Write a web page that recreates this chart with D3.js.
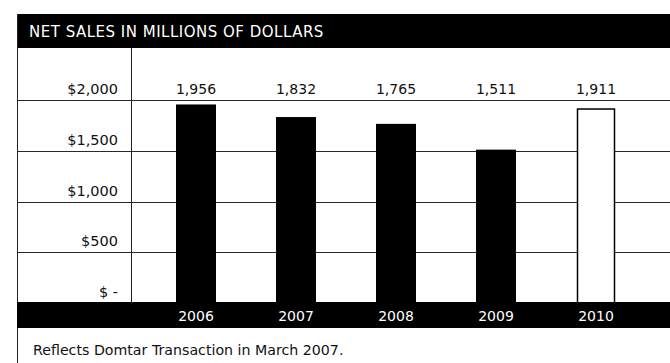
<!DOCTYPE html>
<html>
<head>
<meta charset="utf-8">
<script src="https://cdn.jsdelivr.net/npm/d3@7"></script>
<style>
  html, body { margin: 0; padding: 0; background: #fff; }
  svg { display: block; }
  text { font-family: "DejaVu Sans", sans-serif; }
</style>
</head>
<body>
<svg id="chart" width="670" height="363"></svg>
<script>
// Net sales by year, millions of dollars
const categories = ["2006", "2007", "2008", "2009", "2010"];
const netSales = [1956, 1832, 1765, 1511, 1911];
const yTicks = [0, 500, 1000, 1500, 2000];
const yTickLabels = ["$ -", "$500", "$1,000", "$1,500", "$2,000"];
const titleText = "NET SALES IN MILLIONS OF DOLLARS";
const footnote = "Reflects Domtar Transaction in March 2007.";

const W = 670, H = 363;
const frameLeft = 17, labelColRight = 131;
const plotTop = 100, plotBottom = 303;

const svg = d3.select("#chart");
const ink = "#111";

const x = d3.scaleBand()
  .domain(categories)
  .range([146, 646])
  .paddingInner(0.6)
  .paddingOuter(0.3);

const y = d3.scaleLinear()
  .domain([0, 2000])
  .range([plotBottom, plotTop]);

// background
svg.append("rect").attr("width", W).attr("height", H).attr("fill", "#fff");

// title band
svg.append("rect")
  .attr("x", frameLeft).attr("y", 14)
  .attr("width", W - frameLeft).attr("height", 34)
  .attr("fill", "#000");
svg.append("text")
  .attr("x", 29).attr("y", 37)
  .attr("fill", "#fff")
  .attr("font-size", 15)
  .attr("letter-spacing", 0.5)
  .text(titleText);

// horizontal grid lines
svg.append("g")
  .selectAll("line")
  .data(yTicks.filter(d => d > 0))
  .join("line")
  .attr("x1", frameLeft).attr("x2", W)
  .attr("y1", d => Math.round(y(d)) + 0.5)
  .attr("y2", d => Math.round(y(d)) + 0.5)
  .attr("stroke", "#2a2a2a").attr("stroke-width", 1);

// frame lines
svg.append("line")
  .attr("x1", frameLeft + 0.5).attr("x2", frameLeft + 0.5)
  .attr("y1", 14).attr("y2", H)
  .attr("stroke", "#222").attr("stroke-width", 1);
svg.append("line")
  .attr("x1", labelColRight + 0.5).attr("x2", labelColRight + 0.5)
  .attr("y1", 48).attr("y2", plotBottom)
  .attr("stroke", "#222").attr("stroke-width", 1);

// y tick labels, each sitting just above its grid line
svg.append("g")
  .selectAll("text")
  .data(yTicks)
  .join("text")
  .attr("x", 118)
  .attr("y", d => y(d) - 6)
  .attr("text-anchor", "end")
  .attr("font-size", 14.5)
  .attr("fill", ink)
  .text((d, i) => yTickLabels[i]);

// bars: earlier years solid, latest year outlined
const last = categories.length - 1;
svg.append("g")
  .selectAll("rect")
  .data(netSales)
  .join("rect")
  .attr("x", (d, i) => x(categories[i]) + (i === last ? 1.5 : 0))
  .attr("y", d => y(d))
  .attr("width", (d, i) => x.bandwidth() - (i === last ? 3 : 0))
  .attr("height", d => plotBottom - y(d))
  .attr("fill", (d, i) => i === last ? "#fff" : "#000")
  .attr("stroke", (d, i) => i === last ? "#000" : "none")
  .attr("stroke-width", 1.5);

// value labels in the row above the top grid line
svg.append("g")
  .selectAll("text")
  .data(netSales)
  .join("text")
  .attr("x", (d, i) => x(categories[i]) + x.bandwidth() / 2)
  .attr("y", y(2000) - 6)
  .attr("text-anchor", "middle")
  .attr("font-size", 14)
  .attr("fill", ink)
  .text(d => d3.format(",")(d));

// category band
svg.append("rect")
  .attr("x", frameLeft).attr("y", plotBottom - 1)
  .attr("width", W - frameLeft).attr("height", 26)
  .attr("fill", "#000");
svg.append("g")
  .selectAll("text")
  .data(categories)
  .join("text")
  .attr("x", d => x(d) + x.bandwidth() / 2)
  .attr("y", 321)
  .attr("text-anchor", "middle")
  .attr("font-size", 14)
  .attr("fill", "#fff")
  .text(d => d);

// footnote
svg.append("text")
  .attr("x", 33).attr("y", 355)
  .attr("font-size", 14.2)
  .attr("fill", ink)
  .text(footnote);
</script>
</body>
</html>
